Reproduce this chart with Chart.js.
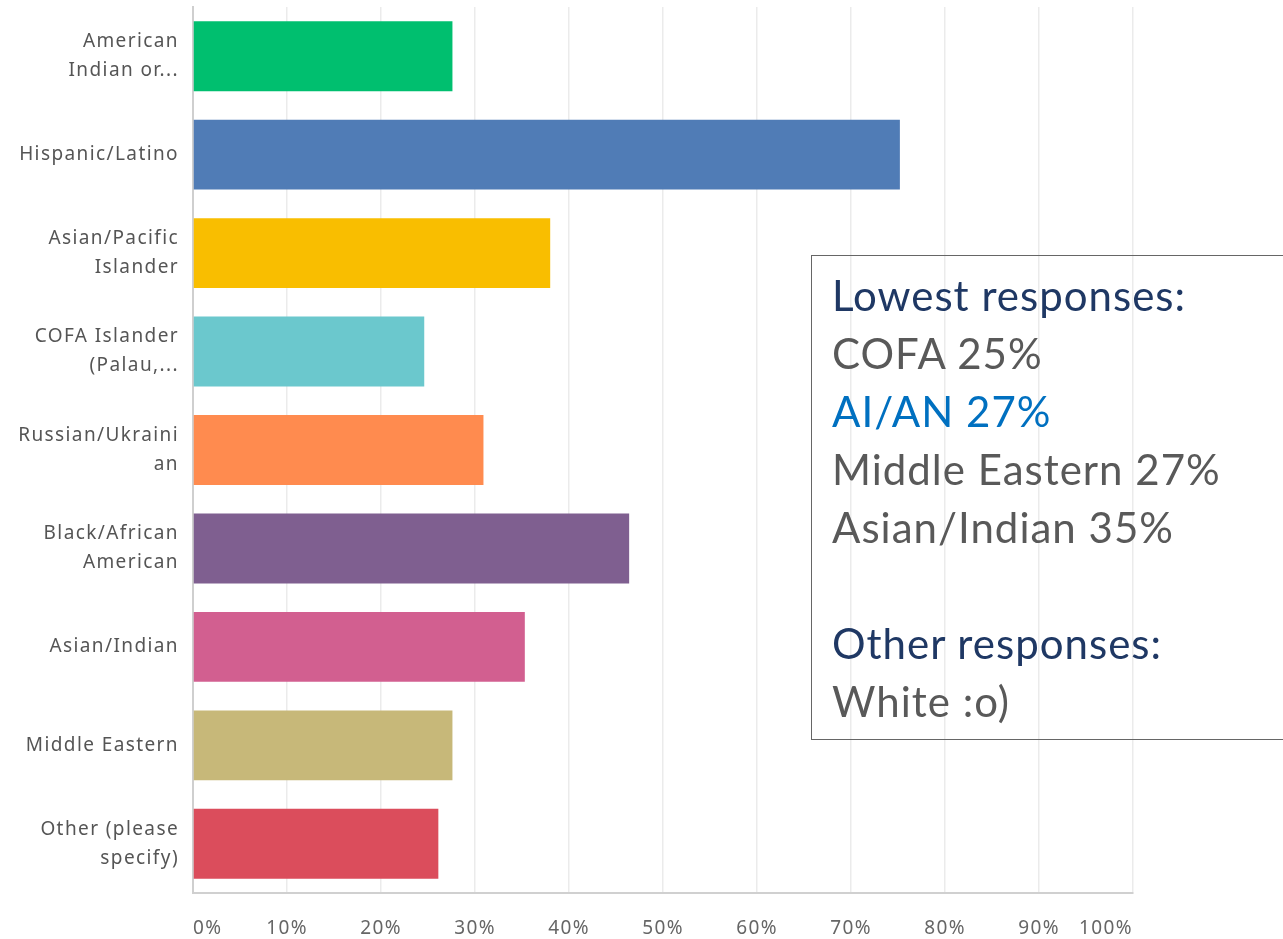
<!DOCTYPE html>
<html>
<head>
  <title>Survey responses</title>
  <script src="https://cdn.jsdelivr.net/npm/chart.js"></script>
  <style>
    html, body { margin: 0; padding: 0; background: #fff; }
    #wrap { position: relative; width: 1283px; height: 939px; overflow: hidden; }
    #note {
      position: absolute; left: 811px; top: 255px; width: 500px; height: 485px;
      border: 1.5px solid #666; box-sizing: border-box;
      font-family: Lato, "Noto Sans", sans-serif; font-size: 42px; line-height: 58px;
      letter-spacing: 1px; color: #595959; padding: 10px 0 0 20px;
    }
    #note .hd { color: #1f3864; }
    #note .hl { color: #0070c0; }
  </style>
</head>
<body>
<div id="wrap">
  <canvas id="bars" width="1283" height="939"></canvas>
  <div id="note">
    <div class="hd">Lowest responses:</div>
    <div>COFA 25%</div>
    <div class="hl">AI/AN 27%</div>
    <div>Middle Eastern 27%</div>
    <div>Asian/Indian 35%</div>
    <div>&nbsp;</div>
    <div class="hd">Other responses:</div>
    <div>White :o)</div>
  </div>
</div>

<script>
  const categories = [
    ['American', 'Indian or...'],
    'Hispanic/Latino',
    ['Asian/Pacific', 'Islander'],
    ['COFA Islander', '(Palau,...'],
    ['Russian/Ukraini', 'an'],
    ['Black/African', 'American'],
    'Asian/Indian',
    'Middle Eastern',
    ['Other (please', 'specify)']
  ];
  const percents = [27.6, 75.2, 38.0, 24.6, 30.9, 46.4, 35.3, 27.6, 26.1];
  const barColors = ['#00bf6f', '#507cb6', '#f9be00', '#6bc8cd', '#ff8b4f',
                     '#7f5f90', '#d25f90', '#c7b879', '#db4d5c'];

  Chart.defaults.animation = false;

  // the survey font is wide, so space the letters a bit
  const spacing = {
    id: 'spacing',
    beforeDraw(chart) { chart.ctx.letterSpacing = '1.4px'; }
  };

  new Chart(document.getElementById('bars'), {
    type: 'bar',
    data: {
      labels: categories,
      datasets: [{
        data: percents,
        backgroundColor: barColors,
        barPercentage: 0.71,
        categoryPercentage: 1
      }]
    },
    options: {
      indexAxis: 'y',
      responsive: false,
      layout: { padding: { top: 7, right: 150, left: 0, bottom: 0 } },
      plugins: { legend: { display: false }, tooltip: { enabled: false } },
      scales: {
        x: {
          min: 0, max: 100,
          ticks: {
            stepSize: 10,
            align: 'inner',
            padding: 24,
            color: '#666',
            font: { family: '"Noto Sans", sans-serif', size: 19 },
            callback: v => v + '%'
          },
          grid: { color: '#ebebeb', lineWidth: 1.5, drawTicks: false },
          border: { color: '#d0d0d0', width: 2 },
          afterFit: s => { s.height = 46; s.paddingLeft = 0; s.paddingRight = 0; }
        },
        y: {
          ticks: {
            padding: 14,
            color: '#555',
            font: { family: '"Noto Sans", sans-serif', size: 19, lineHeight: 1.53 }
          },
          grid: { display: false, drawTicks: false },
          border: { color: '#cfcfcf', width: 2 },
          afterFit: s => { s.width = 193; s.paddingTop = 0; s.paddingBottom = 0; }
        }
      }
    },
    plugins: [spacing]
  });
</script>
</body>
</html>
